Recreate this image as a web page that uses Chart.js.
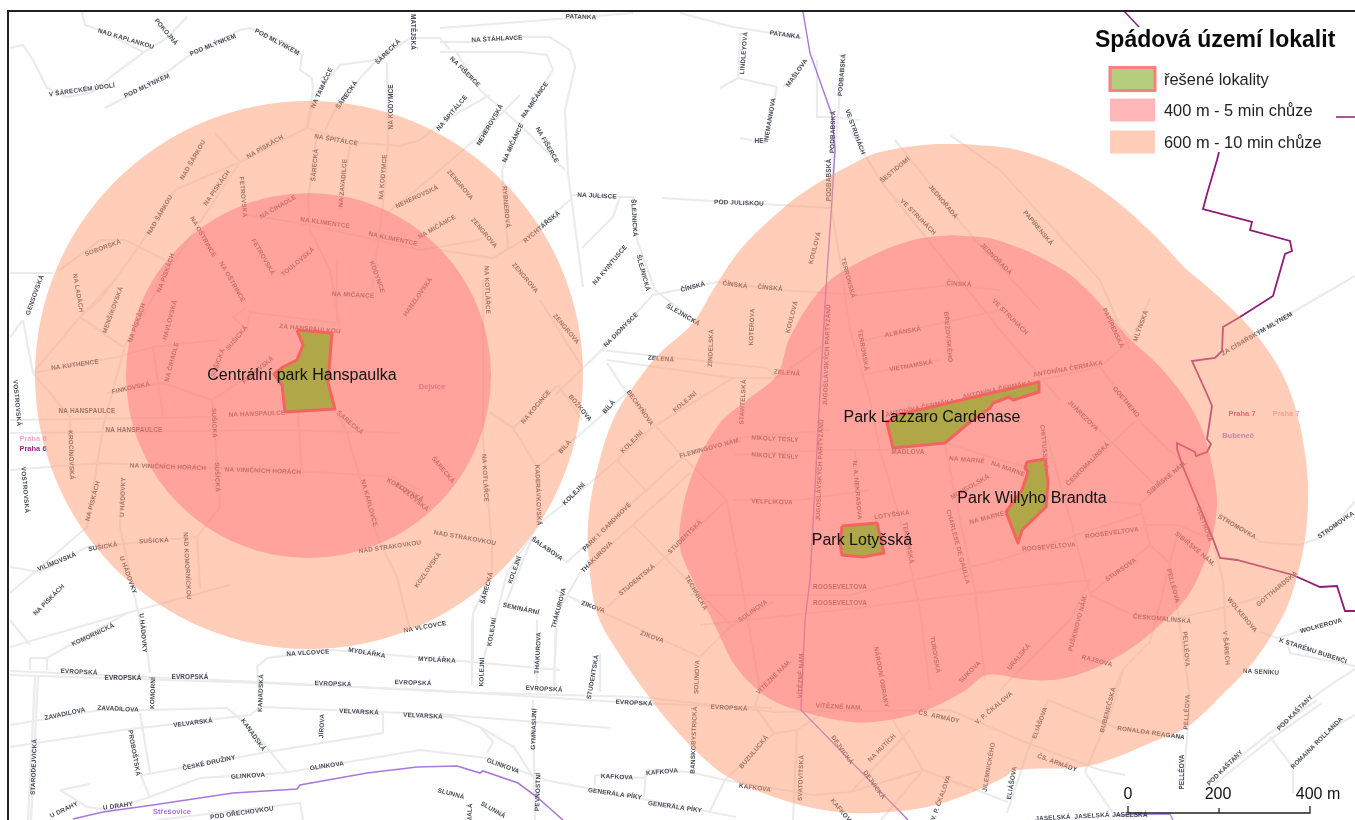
<!DOCTYPE html>
<html lang="cs"><head><meta charset="utf-8"><title>Spádová území lokalit</title>
<style>html,body{margin:0;padding:0;background:#fff;overflow:hidden}canvas{display:block;filter:blur(0.45px)}</style>
<script src="https://cdn.jsdelivr.net/npm/chart.js@4"></script></head><body>
<canvas id="c" width="1355" height="820"></canvas>
<script>
// Map coordinates (x east, y south)
const streets=[
[[10,48],[23,45],[33,60],[47,88],[67,97],[93,92],[113,75],[143,53],[167,38],[187,17]],
[[82,12],[85,25],[100,30],[143,52]],
[[105,108],[130,95],[170,70],[190,55],[240,30],[250,28],[290,45],[302,55],[300,70],[312,78],[313,90],[307,127]],
[[307,128],[318,90],[340,65],[375,60],[392,50],[410,38],[440,38],[450,50]],
[[325,130],[340,100],[375,62]],
[[387,62],[388,145],[384,195],[372,290]],
[[307,128],[350,142],[400,146],[420,140],[445,120],[490,95]],
[[317,133],[308,200],[310,230],[330,270],[340,330]],
[[307,128],[240,162],[175,260],[125,345],[103,427],[87,527],[10,593]],
[[215,133],[240,162],[175,190],[140,245],[100,300],[80,317],[33,373]],
[[350,145],[340,210]],
[[60,270],[100,240],[125,240],[165,260]],
[[250,215],[310,225],[420,250],[480,240]],
[[385,215],[440,170],[480,135],[520,95]],
[[455,50],[480,90],[520,125],[565,170]],
[[440,42],[473,42],[523,37],[550,37],[570,50],[575,67],[565,110],[568,173],[583,287]],
[[440,52],[523,52],[547,55],[553,70],[523,117],[502,170],[508,250]],
[[440,28],[507,23],[633,13]],
[[680,13],[733,27],[803,38]],
[[740,33],[738,78],[720,88]],
[[738,78],[777,87],[765,143],[740,138]],
[[783,87],[807,60]],
[[842,57],[838,117],[830,200],[840,260],[850,330],[870,400],[880,450],[900,520],[920,610],[930,690]],
[[817,60],[817,117],[838,117]],
[[840,118],[860,120]],
[[850,130],[880,180],[920,230],[1000,330],[1060,400]],
[[895,140],[975,240],[1040,310]],
[[950,135],[1000,170],[1100,280],[1130,350]],
[[570,195],[620,197],[633,197],[637,240],[655,290],[700,325]],
[[620,197],[613,217],[582,248]],
[[662,198],[830,208]],
[[570,200],[523,240],[493,258],[440,250]],
[[653,295],[717,282],[780,290],[860,295],[950,285],[1000,290]],
[[653,295],[602,350],[555,395]],
[[600,350],[767,368],[777,378]],
[[607,360],[733,378],[777,378],[830,340]],
[[627,393],[577,437],[537,467]],
[[607,363],[627,393],[683,457],[727,500]],
[[733,378],[653,427],[617,460],[590,483],[540,523],[507,573],[497,613],[483,660]],
[[558,385],[513,428],[490,412]],
[[558,385],[582,420]],
[[513,428],[537,467],[537,527]],
[[483,280],[483,440],[492,547],[492,573],[473,613],[473,660]],
[[540,300],[582,367]],
[[690,473],[580,573],[557,613],[555,660]],
[[683,457],[567,562],[532,538],[505,605]],
[[555,590],[613,617],[700,657]],
[[727,500],[670,553],[607,607]],
[[633,525],[733,627]],
[[617,460],[647,492]],
[[773,602],[730,627],[700,657]],
[[10,273],[53,273]],
[[23,320],[10,337]],
[[23,320],[33,373]],
[[33,373],[117,357],[153,347],[217,340]],
[[80,317],[117,278]],
[[80,317],[125,348]],
[[33,373],[70,417],[70,477]],
[[10,420],[210,417]],
[[10,433],[283,430],[400,433]],
[[10,470],[100,463],[333,473],[393,477],[420,490]],
[[122,477],[120,527],[137,607],[147,650],[150,673]],
[[10,567],[40,572],[87,547],[197,537],[220,507],[213,410],[212,400],[273,360]],
[[10,647],[127,613],[230,585]],
[[197,537],[200,588]],
[[337,413],[347,433],[377,537],[397,577],[410,630]],
[[247,307],[233,317],[247,330],[250,312]],
[[248,312],[337,323]],
[[337,260],[337,323]],
[[298,413],[302,473]],
[[153,347],[163,417]],
[[107,393],[163,383],[212,400]],
[[10,671],[260,682],[450,692],[640,697],[775,712],[950,710],[1025,742],[1100,770],[1125,775]],
[[10,675],[260,683],[430,690],[635,703],[772,708]],
[[10,725],[100,710],[150,710],[227,708],[253,730],[287,772]],
[[10,747],[123,730],[250,715],[260,707],[257,667],[267,658],[333,650],[450,660],[560,670]],
[[263,707],[450,715],[610,728]],
[[143,775],[267,752],[383,733],[383,713]],
[[150,797],[200,778],[283,773],[420,750],[487,758],[545,780],[736,817]],
[[140,713],[150,773]],
[[140,773],[150,798]],
[[35,677],[28,820]],
[[38,677],[31,820]],
[[60,790],[87,807],[110,810],[150,797]],
[[90,784],[60,790]],
[[157,820],[300,803],[303,820]],
[[30,658],[47,658],[47,670]],
[[30,658],[30,670]],
[[47,658],[127,613]],
[[30,645],[10,620]],
[[472,620],[472,685]],
[[537,620],[537,685]],
[[556,620],[554,687]],
[[600,653],[600,692]],
[[533,700],[535,820]],
[[430,717],[453,717],[480,727],[493,742],[487,753]],
[[480,727],[514,747],[533,777]],
[[595,775],[595,785]],
[[595,775],[644,778],[648,770],[690,772],[725,780],[813,795],[851,792],[923,770],[1008,802]],
[[646,770],[644,797]],
[[725,780],[709,813]],
[[725,780],[774,733],[755,707],[760,690],[727,500]],
[[755,707],[774,733],[797,730],[820,715]],
[[797,730],[793,820]],
[[893,720],[923,770],[881,820]],
[[851,792],[910,730]],
[[1048,700],[1117,728],[1183,737]],
[[1085,772],[1103,730],[1115,700],[1123,669]],
[[1085,772],[1113,813]],
[[1048,700],[1028,750],[1007,813]],
[[1207,783],[1270,733],[1317,700]],
[[1212,786],[1275,736],[1322,703]],
[[1270,737],[1293,767],[1293,793]],
[[1355,715],[1320,735]],
[[1190,700],[1183,787]],
[[1220,514],[1260,542],[1300,545],[1327,535],[1355,501]],
[[1260,632],[1277,638],[1343,618]],
[[1287,638],[1290,653],[1355,666]],
[[1355,669],[1323,690],[1310,700]],
[[1222,353],[1293,312],[1355,276]],
[[1103,308],[1132,339],[1150,299]],
[[887,423],[1040,380],[1100,367],[1132,339]],
[[1100,367],[1143,425],[1183,463],[1203,504],[1223,580],[1227,653]],
[[1140,504],[1183,463]],
[[1140,504],[1150,545],[1170,563],[1177,607],[1190,697]],
[[1070,401],[1153,483]],
[[1067,487],[1135,421]],
[[1060,498],[1140,504]],
[[1143,525],[1177,525],[1213,539]],
[[1090,594],[1067,508],[1048,440]],
[[1090,594],[1150,545]],
[[1090,595],[1133,615],[1177,618],[1227,607],[1260,597]],
[[1177,535],[1150,642],[1123,669],[1110,700]],
[[855,450],[860,520]],
[[940,420],[960,520],[975,590],[985,680]],
[[865,340],[1000,310]],
[[860,375],[940,360]],
[[733,500],[800,500],[870,490]],
[[735,438],[830,430]],
[[735,455],[830,450],[890,450]],
[[945,443],[1000,460],[1040,470]],
[[690,595],[850,595],[1000,560],[1143,513]],
[[700,625],[840,610],[1000,590],[1090,580]],
[[1090,580],[1070,620],[1030,660],[1000,690]]
];
const districtLine=[[1219,152],[1217,160],[1207,194],[1203,209],[1252,222],[1250,230],[1290,241],[1292,251],[1285,254],[1273,296],[1240,317],[1223,327],[1222,351],[1215,358],[1192,361],[1207,394],[1212,406],[1207,439],[1211,444],[1207,452],[1196,456],[1195,452],[1177,443],[1177,449],[1183,467],[1213,539],[1220,558],[1237,560],[1293,575],[1320,587],[1337,586],[1345,611],[1355,611]];
const districtLineTop=[[1124,11],[1139,27]];
const districtLineEast=[[1336,117],[1355,117]];
const cadastreNorth=[[803,12],[810,53],[832,115],[835,150],[832,200],[827,273],[822,357],[810,580],[805,620],[801,710],[908,820]];
const cadastreSouth=[[73,819],[103,812],[153,805],[233,793],[297,789],[300,785],[367,773],[417,767],[457,766],[480,773],[483,771],[518,783],[537,797],[563,820]];
const cadastreSE=[[1115,815],[1170,814],[1173,820]];
const walk10West=[{x:309,y:375,r:274}];
const walk5West=[{x:308.5,y:375.5,r:182.5}];
const walk10East=[[963,144],[1013,149],[1060,165],[1093,184],[1127,210],[1160,241],[1185,268],[1210,289],[1240,317],[1267,349],[1287,384],[1300,426],[1307,470],[1308,504],[1305,539],[1298,573],[1287,607],[1270,638],[1250,666],[1227,690],[1187,727],[1150,743],[1117,757],[1083,767],[1017,770],[1003,778],[966,795],[927,807],[889,812],[851,813],[813,808],[774,797],[728,777],[698,753],[667,720],[644,690],[621,657],[597,613],[588,547],[589,513],[597,470],[613,420],[633,387],[660,353],[693,323],[713,290],[740,250],[773,217],[807,190],[860,160],[880,152],[923,145],[963,144]];
const walk5East=[[953,235],[997,240],[1060,268],[1093,296],[1127,336],[1160,367],[1187,401],[1203,432],[1213,470],[1217,504],[1212,539],[1203,566],[1187,597],[1160,625],[1130,649],[1093,669],[1060,679],[1030,680],[987,675],[966,690],[927,710],[889,720],[851,722],[797,710],[767,697],[736,667],[717,630],[693,580],[680,547],[683,507],[697,463],[720,423],[747,400],[777,375],[790,337],[823,287],[863,260],[913,240],[953,235]];
const parkHanspaulka=[[297,330],[332,333],[330,357],[328,383],[335,409],[285,412],[282,385],[274,374],[283,367],[297,360],[303,345],[297,330]];
const parkLazzaro=[[1039,382],[1039,392],[1013,400],[1009,397],[993,403],[990,408],[970,422],[945,443],[893,448],[887,423],[897,415],[1039,382]];
const parkBrandt=[[1045,459],[1027,462],[1025,468],[1028,472],[1022,490],[1006,512],[1018,543],[1022,530],[1046,507],[1048,483],[1045,459]];
const parkLotysska=[[842,526],[877,523],[884,553],[863,557],[842,555],[840,543],[842,526]];
const frameLine=[[1355,11],[8,11],[8,820]];
const scaleBar=[[1128,806],[1128,813],[1219,813],[1219,808],[1219,813],[1310,813],[1310,806]];
const parkLabels=[["Centrální park Hanspaulka",302,376],["Park Lazzaro Cardenase",932,418],["Park Willyho Brandta",1032,499],["Park Lotyšská",862,541]];
const scaleLabels=[["0",1128,795],["200",1218,795],["400 m",1318,795]];
const placeLabels=[["Praha 6",33,439,"#F3A6D2"],["Praha 6",33,449,"#A8208C"],["Praha 7",1242,414,"#C2307E"],["Praha 7",1286,414,"#F2A3B8"],["Bubeneč",1238,436,"#B060C8"],["Dejvice",432,387,"#C850B0"],["Střešovice",172,812,"#B070E0"]];
const streetLabels=[
["PATANKA",581,17,2],["PATANKA",785,35,8],["NAD KAPLANKOU",126,39,17],["POKOJNÁ",166,32,50],["POD MLÝNKEM",213,45,-22],["POD MLÝNKEM",277,42,28],["POD MLÝNKEM",147,86,-25],["V ŠÁRECKÉM ÚDOLÍ",82,90,-8],["NA TAMÁČCE",322,88,-65],["ŠÁRECKÁ",347,95,-55],["ŠÁRECKÁ",388,52,-45],["MATĚJSKÁ",413,32,90],["NA KODYMCE",391,107,-90],["NA ŠPITÁLCE",336,140,10],["NA ŠPITÁLCE",452,113,-50],["NA PÍSKÁCH",265,147,-30],["NAD ŠÁRKOU",193,160,-60],["NAD ŠÁRKOU",160,215,-60],["NA PÍSKÁCH",217,188,-55],["ŠÁRECKÁ",315,165,-85],["NA ZAVADILCE",343,183,-85],["NA KODYMCE",383,177,-85],["NEHEROVSKÁ",417,197,-25],["FETROVSKÁ",243,197,85],["NA ČIHADLE",278,207,-30],["NA KLIMENTCE",325,223,8],["NA KLIMENTCE",393,239,12],["NA OŠTRINCE",203,237,60],["SOBORSKÁ",103,248,-20],["FETROVSKÁ",263,257,60],["NA MIČÁNCE",437,227,-30],["TOULOVSKÁ",298,262,-40],["KODYMCE",377,277,70],["NA MIČÁNCE",353,295,3],["HANZLOVSKÁ",418,297,-55],
["NEHEROVSKÁ",490,125,-60],["NA FIŠERCE",465,72,45],["NA FIŠERCE",547,145,60],["NA MIČÁNCE",535,100,-55],["NA MIČÁNCE",513,143,-65],["NA ŠTÁHLAVCE",497,39,-3],["LINDLEYOVÁ",744,53,-85],["MAŠLOVA",797,73,-55],["HE",759,141,0],["INEMANNOVA",770,120,-80],["PODBABSKÁ",842,75,-85],["PODBABSKÁ",833,132,-88],["PODBABSKÁ",829,180,-90],["VE STRUHÁCH",855,132,70],["ZENGROVA",460,185,50],["ZENGROVA",484,233,50],["ZENGROVA",525,278,50],["RYBNEROVÁ",506,207,85],["RYCHTÁŘSKÁ",542,227,-40],["NA JULISCE",597,196,3],["POD JULISKOU",739,203,2],["ŠLEJNICKÁ",634,218,87],["ŠLEJNICKÁ",643,273,75],["NA KVINTUSCE",610,265,-50],["KOULOVÁ",815,248,-75],["ČÍNSKÁ",693,287,-15],["ČÍNSKÁ",735,285,8],["ČÍNSKÁ",770,288,5],
["NA DIONÝSCE",621,330,-45],["ŠLEJNICKÁ",683,315,30],["ZELENÁ",661,359,5],["ZELENÁ",787,373,5],["ZINDELSKÁ",711,348,-88],["KOTEROVA",752,327,-88],["KOULOVÁ",792,317,-75],["ZENGROVA",566,329,50],["BECHYŇOVA",640,408,55],["KOLEJNÍ",685,402,-40],["KOLEJNÍ",632,442,-45],["KOLEJNÍ",574,494,-45],["BÍLÁ",609,407,-50],["BÍLÁ",565,447,-50],["NA KOCINCE",536,407,-50],["BOŽKOVA",580,408,50],["STAVITELSKÁ",743,402,-87],["FLEMINGOVO NÁM.",710,448,-15],["NIKOLY TESLY",775,439,3],["NIKOLY TESLY",775,456,3],["VELFLÍKOVA",772,502,2],["ŠÁRECKÁ",443,470,50],["KOZLOVSKÁ",412,497,40],["KOZLOVSKÁ",428,570,-55],["NA KOTLÁŘCE",485,478,87],["NA KOTLÁŘCE",487,290,88],["KADERÁVKOVSKÁ",538,495,88],["NAD STRAKOVKOU",465,538,10],["NAD STRAKOVKOU",390,547,-8],["PARK I. GANDHIOVÉ",607,527,-45],["THÁKUROVA",597,557,-45],["THÁKUROVA",559,608,-75],["THÁKUROVA",538,653,-87],["ŠALABOVA",547,549,35],["KOLEJNÍ",515,570,-70],["KOLEJNÍ",492,632,-80],["SEMINÁRNÍ",521,609,12],["ŠÁRECKÁ",487,588,-75],["STUDENTSKÁ",685,537,-45],["STUDENTSKÁ",637,580,-40],["TECHNICKÁ",696,593,60],["ZIKOVA",593,607,20],["ZIKOVA",652,637,20],["SOLINOVA",753,611,-35],["NA VLCOVCE",425,627,-10],
["GENSOVSKÁ",35,295,-70],["NA LADÁCH",78,293,80],["MENŠÍKOVSKÁ",113,310,-70],["NA PÍSKÁCH",137,323,-70],["HAVLOVSKÁ",170,320,-75],["NA PÍSKÁCH",166,273,-70],["NA ČIHADLE",172,362,-75],["NA OŠTRINCE",232,282,60],["SUŠICKÁ",237,338,-50],["SUŠICKÁ",218,363,-70],["NA KUTHENCE",75,365,-8],["FINKOVSKÁ",131,388,-12],["FINKOVSKÁ",258,370,-40],["VOSTROVSKÁ",17,403,85],["NA HANSPAULCE",87,411,0],["NA HANSPAULCE",134,430,0],["NA HANSPAULCE",257,414,-2],["ZA HANSPAULKOU",310,329,5],["KROCÍNOVSKÁ",71,455,88],["ŠÁRECKÁ",350,423,40],["SUŠICKÁ",214,423,88],["SUŠICKÁ",217,477,88],["NA VINIČNÍCH HORÁCH",168,467,2],["NA VINIČNÍCH HORÁCH",263,471,2],["NA KARLOVCE",369,503,75],["KOZLOVSKÁ",405,490,30],["NA PÍSKÁCH",93,501,-75],["U HÁDOVKY",123,497,-88],["VOSTROVSKÁ",25,490,85],["SUŠICKÁ",103,547,-10],["SUŠICKÁ",154,541,-3],["NAD KOMORNÍCKOU",187,566,87],["VILÍMOVSKÁ",57,562,-22],["NA PÍSKÁCH",49,600,-45],["U HÁDOVKY",128,575,70],["U HÁDOVKY",143,633,85],["KOMORNICKÁ",93,635,-25],
["EVROPSKÁ",79,672,3],["EVROPSKÁ",123,678,0],["EVROPSKÁ",190,677,0],["EVROPSKÁ",333,684,2],["EVROPSKÁ",413,683,2],["EVROPSKÁ",544,689,3],["EVROPSKÁ",634,703,3],["EVROPSKÁ",729,708,3],["NA VLCOVCE",308,653,-3],["MYDLÁŘKA",367,653,10],["MYDLÁŘKA",437,660,3],["KOMORNÍ",153,693,-88],["ZAVADILOVA",65,714,-12],["ZAVADILOVA",118,709,3],["KANADSKÁ",261,693,-88],["KANADSKÁ",253,735,55],["VELVARSKÁ",193,723,-7],["VELVARSKÁ",359,712,3],["VELVARSKÁ",423,716,3],["JÍROVA",322,726,-88],["PROBOŠTSKÁ",134,753,80],["STARODEJVICKÁ",34,767,-88],["ČESKÉ DRUŽINY",209,763,-12],["GLINKOVA",248,776,-3],["GLINKOVA",327,766,-8],["GLINKOVA",503,766,20],["U DRAHY",64,810,-25],["U DRAHY",118,806,-8],["POD OŘECHOVKOU",242,813,-8],
["SLUNNÁ",451,794,15],["SLUNNÁ",493,810,30],["MALÁ",470,813,-88],["KAFKOVA",617,777,3],["KAFKOVA",662,772,-5],["KAFKOVA",755,788,8],["KAFKOVA",842,812,50],["GENERÁLA PÍKY",615,794,8],["GENERÁLA PÍKY",675,807,8],["GYMNASIJNÍ",534,729,-88],["PEVNOSTNÍ",538,792,-88],["KOLEJNÍ",482,672,-88],["STUDENTSKÁ",593,677,-80],["SOLINOVA",697,677,-88],["BANSKOBYSTRICKÁ",694,740,-88],["BUZULUCKÁ",754,752,-50],["VÍTĚZNÉ NÁM.",774,677,-45],["VÍTĚZNÉ NÁM.",801,675,-88],["VÍTĚZNÉ NÁM.",839,707,3],["NÁRODNÍ OBRANY",881,677,80],["TUROVSKÁ",935,655,80],["SUKOVA",970,672,-45],["URALSKÁ",1019,657,-50],["ČS. ARMÁDY",939,717,12],["V. P. ČKALOVA",994,708,-40],["DEJVICKÁ",842,750,55],["DEJVICKÁ",874,785,55],["NA HUTÍCH",882,748,-45],["SVATOVITSKÁ",801,778,-88],["V. P. ČKALOVA",941,798,-70],["JILEMNICKÉHO",989,767,-80],["ELIÁŠOVA",1012,783,-80],["ELIÁŠOVA",1040,723,-70],["BUBENEČSKÁ",1108,710,-75],["RONALDA REAGANA",1151,733,8],["ČS. ARMÁDY",1057,763,20],["PELLÉOVA",1187,712,-87],["PELLÉOVA",1182,772,-90],["POD KAŠTANY",1225,768,-45],["POD KAŠTANY",1295,713,-45],["ROMAINA ROLLANDA",1317,743,-45],["JASELSKÁ",1053,818,-3],["JASELSKÁ",1092,816,-3],["JASELSKÁ",1130,815,0],
["PAPÍRENSKÁ",1113,328,65],["MLÝNSKÁ",1141,326,-70],["ANTONÍNA ČERMÁKA",997,390,-12],["ANTONÍNA ČERMÁKA",1068,369,-10],["ANTONÍNA ČERMÁKA",920,408,-12],["GOETHEHO",1126,402,50],["JUÁREZOVA",1083,416,45],["ČESKOMALÍNSKÁ",1088,464,-45],["SIBIŘSKÉ NÁM.",1167,478,-40],["ROOSEVELTOVA",1112,533,-8],["GOETHOVA",1204,524,70],["STROMOVKA",1237,527,30],["STROMOVKA",1336,525,-35],["SIBIŘSKÉ NÁM.",1195,549,40],["ŠTURSOVA",1121,570,-35],["PELLÉOVA",1173,586,75],["GOTTHARDSKÁ",1277,589,-40],["WOLKEROVA",1242,615,50],["WOLKEROVA",1321,626,-15],["K STARÉMU BUBENČI",1313,651,18],["ČESKOMALÍNSKÁ",1162,619,5],["PELLÉOVA",1186,649,85],["V ŠÁRECH",1226,648,85],["NA SENÍKU",1261,672,3],["RAJSOVA",1097,661,15],["PUŠKINOVO NÁM.",1078,623,-75],["ZA CÍSAŘSKÝM MLÝNEM",1257,334,-30],
["ŠESTIDOMÍ",895,170,-40],["JEDNOŘADÁ",943,202,50],["JEDNOŘADÁ",996,259,45],["VE STRUHÁCH",918,217,45],["VE STRUHÁCH",1010,317,45],["PAPÍRENSKÁ",1038,228,50],["ČÍNSKÁ",959,284,3],["ALBÁNSKÁ",903,332,-10],["BŘEZOVSKÉHO",948,337,85],["TERRONSKÁ",848,278,75],["TERRONSKÁ",863,350,80],["JUGOSLÁVSKÝCH PARTYZÁNŮ",827,355,-88],["JUGOSLÁVSKÝCH PARTYZÁNŮ",820,470,-88],["VIETNAMSKÁ",911,366,-10],["MÁDLOVA",908,452,0],["NA MARNÉ",967,460,5],["NA MARNÉ",1008,469,20],["NA MARNÉ",987,518,-15],["MONGOLSKÁ",970,487,-30],["CHITTUSSIHO",1044,447,85],["CHARLESE DE GAULLA",958,547,75],["N. A. NEKRASOVA",857,490,85],["LOTYŠSKÁ",892,515,-8],["TERRONSKÁ",908,543,80],["ROOSEVELTOVA",1049,547,-5],["ROOSEVELTOVA",840,587,0],["ROOSEVELTOVA",840,603,0]
];
const legendTitle="Spádová území lokalit";
const legendItems=["řešené lokality","400 m - 5 min chůze","600 m - 10 min chůze"];

const pts=a=>a.map(p=>({x:p[0],y:p[1]}));
const line=(a,color,width,order,label)=>({type:'scatter',label:label||'',data:pts(a),showLine:true,pointRadius:0,borderColor:color,borderWidth:width,fill:false,tension:0,order});
const area=(a,color,order,label,stroke,sw,smooth)=>({type:'scatter',label,data:pts(a),showLine:true,pointRadius:0,backgroundColor:color,borderColor:stroke||'rgba(0,0,0,0)',borderWidth:sw||0,fill:'shape',tension:smooth||0,order,borderJoinStyle:'round'});
const C600='rgba(255,155,113,0.5)',C400='rgba(255,102,114,0.4)',PARK='#B0A848',EDGE='#F4645E';
const datasets=[
 ...streets.map(s=>line(s,'#EBEBEB',2.2,100,'ulice')),
 line(districtLine,'#8E1C78',1.8,90,'hranice'),line(districtLineTop,'#8E1C78',1.5,90,'hranice'),line(districtLineEast,'#8E1C78',1.5,90,'hranice'),
 line(cadastreNorth,'#A878DC',1.4,90,'katastr'),line(cadastreSouth,'#A878DC',1.6,90,'katastr'),line(cadastreSE,'#B890E8',1.4,90,'katastr'),
 {type:'scatter',label:'popisky',data:pts(streetLabels.map(l=>[l[1],l[2]])),pointRadius:0,showLine:false,order:80,isStreetText:true},
 {type:'bubble',label:'600 m - 10 min chůze',data:walk10West,backgroundColor:C600,borderWidth:0,order:50},
 area(walk10East,C600,49,'600 m - 10 min chůze',null,0,0.35),
 {type:'bubble',label:'400 m - 5 min chůze',data:walk5West,backgroundColor:C400,borderWidth:0,order:40},
 area(walk5East,C400,39,'400 m - 5 min chůze',null,0,0.35),
 area(parkHanspaulka,PARK,30,'Centrální park Hanspaulka',EDGE,3),
 area(parkLazzaro,PARK,30,'Park Lazzaro Cardenase',EDGE,3),
 area(parkBrandt,PARK,30,'Park Willyho Brandta',EDGE,3),
 area(parkLotysska,PARK,30,'Park Lotyšská',EDGE,3),
 line(frameLine,'#222222',2,5,'rám'),
 line(scaleBar,'#222222',1.3,5,'měřítko')
];
const FONT='"Liberation Sans",Arial,sans-serif';
const textPlugin={id:'mapText',
 afterDatasetDraw(chart,args){
  const ds=chart.data.datasets[args.index];
  if(!ds.isStreetText) return;
  const ctx=chart.ctx,{x,y}=chart.scales;
  ctx.save();ctx.textAlign='center';ctx.textBaseline='middle';
  ctx.font='bold 6.4px '+FONT;ctx.letterSpacing='0.15px';ctx.fillStyle='#474A55';
  streetLabels.forEach(l=>{ctx.save();ctx.translate(x.getPixelForValue(l[1]),y.getPixelForValue(l[2]));ctx.rotate(l[3]*Math.PI/180);ctx.fillText(l[0],0,0);ctx.restore();});
  ctx.letterSpacing='0px';ctx.font='bold 7.5px '+FONT;
  placeLabels.forEach(l=>{ctx.fillStyle=l[3];ctx.fillText(l[0],x.getPixelForValue(l[1]),y.getPixelForValue(l[2]));});
  ctx.restore();
 },
 afterDraw(chart){
  const ctx=chart.ctx,{x,y}=chart.scales;
  ctx.save();ctx.textBaseline='middle';ctx.textAlign='center';ctx.fillStyle='#111';
  ctx.font='16px '+FONT;
  parkLabels.forEach(l=>ctx.fillText(l[0],x.getPixelForValue(l[1]),y.getPixelForValue(l[2])));
  scaleLabels.forEach(l=>ctx.fillText(l[0],x.getPixelForValue(l[1]),y.getPixelForValue(l[2])));
  ctx.textAlign='left';ctx.font='bold 23px '+FONT;ctx.fillStyle='#0A0A0A';
  ctx.fillText(legendTitle,1095,41);
  const swatch=['#B4CE7E','#FFB7B7','#FFCDB8'],rowY=[79,110,142];
  legendItems.forEach((t,i)=>{
   ctx.fillStyle=swatch[i];ctx.fillRect(1110,rowY[i]-11.5,45,23);
   if(i===0){ctx.strokeStyle='#F88080';ctx.lineWidth=3;ctx.strokeRect(1110,rowY[i]-11.5,45,23);}
   ctx.fillStyle='#222';ctx.font='16.4px '+FONT;ctx.fillText(t,1164,rowY[i]+1);
  });
  ctx.restore();
 }};
new Chart(document.getElementById('c'),{type:'scatter',data:{datasets},plugins:[textPlugin],options:{
 responsive:false,animation:false,devicePixelRatio:1,layout:{padding:0,autoPadding:false},events:[],
 scales:{x:{type:'linear',min:0,max:1355,display:false},y:{type:'linear',min:0,max:820,reverse:true,display:false}},
 plugins:{legend:{display:false},title:{display:false},tooltip:{enabled:false}}
}});
</script></body></html>
